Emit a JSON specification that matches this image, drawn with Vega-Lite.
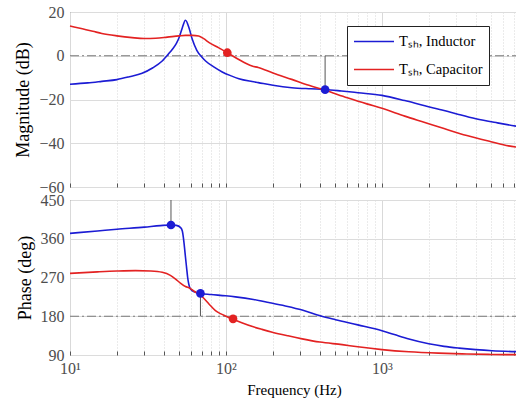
{
  "$schema": "https://vega.github.io/schema/vega-lite/v6.json",
  "padding": {"left": 14, "top": 3, "right": 0, "bottom": 0},
  "background": "white",
  "spacing": 13,
  "bounds": "flush",
  "config": {
    "font": "Liberation Serif, Times New Roman, serif",
    "view": {"stroke": "#555555", "strokeWidth": 1},
    "axis": {
      "labelFont": "Liberation Serif, Times New Roman, serif",
      "titleFont": "Liberation Serif, Times New Roman, serif",
      "labelColor": "#4d4d4d",
      "titleColor": "#000000",
      "titleFontWeight": "normal",
      "domain": false,
      "ticks": false,
      "gridColor": "#dcdcdc"
    }
  },
  "datasets": {
    "mag": [
      {"f": 10, "v": -13.0, "s": "Tₛₕ, Inductor"},
      {"f": 13, "v": -12.4, "s": "Tₛₕ, Inductor"},
      {"f": 16, "v": -11.7, "s": "Tₛₕ, Inductor"},
      {"f": 20, "v": -10.9, "s": "Tₛₕ, Inductor"},
      {"f": 24, "v": -9.6, "s": "Tₛₕ, Inductor"},
      {"f": 29, "v": -8.0, "s": "Tₛₕ, Inductor"},
      {"f": 34, "v": -5.5, "s": "Tₛₕ, Inductor"},
      {"f": 39, "v": -2.4, "s": "Tₛₕ, Inductor"},
      {"f": 43, "v": 1.0, "s": "Tₛₕ, Inductor"},
      {"f": 45.2, "v": 2.9, "s": "Tₛₕ, Inductor"},
      {"f": 48, "v": 5.5, "s": "Tₛₕ, Inductor"},
      {"f": 50, "v": 8.2, "s": "Tₛₕ, Inductor"},
      {"f": 52.5, "v": 12.8, "s": "Tₛₕ, Inductor"},
      {"f": 55, "v": 16.2, "s": "Tₛₕ, Inductor"},
      {"f": 57.9, "v": 12.8, "s": "Tₛₕ, Inductor"},
      {"f": 60.8, "v": 7.5, "s": "Tₛₕ, Inductor"},
      {"f": 65, "v": 2.5, "s": "Tₛₕ, Inductor"},
      {"f": 70, "v": -0.6, "s": "Tₛₕ, Inductor"},
      {"f": 74, "v": -2.4, "s": "Tₛₕ, Inductor"},
      {"f": 84, "v": -5.2, "s": "Tₛₕ, Inductor"},
      {"f": 94.6, "v": -7.4, "s": "Tₛₕ, Inductor"},
      {"f": 108, "v": -9.2, "s": "Tₛₕ, Inductor"},
      {"f": 121, "v": -10.5, "s": "Tₛₕ, Inductor"},
      {"f": 147, "v": -11.8, "s": "Tₛₕ, Inductor"},
      {"f": 161, "v": -12.3, "s": "Tₛₕ, Inductor"},
      {"f": 200, "v": -13.5, "s": "Tₛₕ, Inductor"},
      {"f": 264, "v": -14.6, "s": "Tₛₕ, Inductor"},
      {"f": 350, "v": -15.1, "s": "Tₛₕ, Inductor"},
      {"f": 432, "v": -15.4, "s": "Tₛₕ, Inductor"},
      {"f": 550, "v": -16.1, "s": "Tₛₕ, Inductor"},
      {"f": 702, "v": -16.9, "s": "Tₛₕ, Inductor"},
      {"f": 1000, "v": -18.1, "s": "Tₛₕ, Inductor"},
      {"f": 1400, "v": -20.5, "s": "Tₛₕ, Inductor"},
      {"f": 1883, "v": -22.9, "s": "Tₛₕ, Inductor"},
      {"f": 2500, "v": -25.0, "s": "Tₛₕ, Inductor"},
      {"f": 3060, "v": -26.7, "s": "Tₛₕ, Inductor"},
      {"f": 4000, "v": -28.8, "s": "Tₛₕ, Inductor"},
      {"f": 5500, "v": -30.7, "s": "Tₛₕ, Inductor"},
      {"f": 7450, "v": -32.3, "s": "Tₛₕ, Inductor"},
      {"f": 10, "v": 13.6, "s": "Tₛₕ, Capacitor"},
      {"f": 12, "v": 12.3, "s": "Tₛₕ, Capacitor"},
      {"f": 14, "v": 11.2, "s": "Tₛₕ, Capacitor"},
      {"f": 16, "v": 10.2, "s": "Tₛₕ, Capacitor"},
      {"f": 20, "v": 9.1, "s": "Tₛₕ, Capacitor"},
      {"f": 25, "v": 8.3, "s": "Tₛₕ, Capacitor"},
      {"f": 30, "v": 7.9, "s": "Tₛₕ, Capacitor"},
      {"f": 35.4, "v": 8.0, "s": "Tₛₕ, Capacitor"},
      {"f": 42, "v": 8.5, "s": "Tₛₕ, Capacitor"},
      {"f": 50, "v": 9.1, "s": "Tₛₕ, Capacitor"},
      {"f": 55, "v": 9.3, "s": "Tₛₕ, Capacitor"},
      {"f": 61, "v": 9.3, "s": "Tₛₕ, Capacitor"},
      {"f": 66.8, "v": 9.0, "s": "Tₛₕ, Capacitor"},
      {"f": 72, "v": 7.8, "s": "Tₛₕ, Capacitor"},
      {"f": 78, "v": 6.0, "s": "Tₛₕ, Capacitor"},
      {"f": 90, "v": 3.6, "s": "Tₛₕ, Capacitor"},
      {"f": 102, "v": 1.4, "s": "Tₛₕ, Capacitor"},
      {"f": 120, "v": -1.6, "s": "Tₛₕ, Capacitor"},
      {"f": 147, "v": -4.7, "s": "Tₛₕ, Capacitor"},
      {"f": 161, "v": -5.4, "s": "Tₛₕ, Capacitor"},
      {"f": 200, "v": -7.9, "s": "Tₛₕ, Capacitor"},
      {"f": 264, "v": -10.8, "s": "Tₛₕ, Capacitor"},
      {"f": 340, "v": -13.5, "s": "Tₛₕ, Capacitor"},
      {"f": 432, "v": -15.8, "s": "Tₛₕ, Capacitor"},
      {"f": 600, "v": -19.2, "s": "Tₛₕ, Capacitor"},
      {"f": 800, "v": -22.0, "s": "Tₛₕ, Capacitor"},
      {"f": 1000, "v": -24.0, "s": "Tₛₕ, Capacitor"},
      {"f": 1400, "v": -27.6, "s": "Tₛₕ, Capacitor"},
      {"f": 1883, "v": -30.5, "s": "Tₛₕ, Capacitor"},
      {"f": 2500, "v": -33.3, "s": "Tₛₕ, Capacitor"},
      {"f": 3500, "v": -36.5, "s": "Tₛₕ, Capacitor"},
      {"f": 5000, "v": -39.3, "s": "Tₛₕ, Capacitor"},
      {"f": 6480, "v": -41.2, "s": "Tₛₕ, Capacitor"},
      {"f": 7450, "v": -41.8, "s": "Tₛₕ, Capacitor"}
    ],
    "phase": [
      {"f": 10, "v": 372.5, "s": "Tₛₕ, Inductor"},
      {"f": 15, "v": 378, "s": "Tₛₕ, Inductor"},
      {"f": 20, "v": 382, "s": "Tₛₕ, Inductor"},
      {"f": 30, "v": 387, "s": "Tₛₕ, Inductor"},
      {"f": 38, "v": 390.5, "s": "Tₛₕ, Inductor"},
      {"f": 44.4, "v": 392, "s": "Tₛₕ, Inductor"},
      {"f": 48, "v": 391, "s": "Tₛₕ, Inductor"},
      {"f": 51.2, "v": 386, "s": "Tₛₕ, Inductor"},
      {"f": 52.5, "v": 378, "s": "Tₛₕ, Inductor"},
      {"f": 53.3, "v": 363, "s": "Tₛₕ, Inductor"},
      {"f": 54.2, "v": 340, "s": "Tₛₕ, Inductor"},
      {"f": 55, "v": 317, "s": "Tₛₕ, Inductor"},
      {"f": 55.9, "v": 293, "s": "Tₛₕ, Inductor"},
      {"f": 56.8, "v": 270, "s": "Tₛₕ, Inductor"},
      {"f": 57.7, "v": 255, "s": "Tₛₕ, Inductor"},
      {"f": 58.7, "v": 245.6, "s": "Tₛₕ, Inductor"},
      {"f": 61, "v": 239, "s": "Tₛₕ, Inductor"},
      {"f": 64, "v": 236, "s": "Tₛₕ, Inductor"},
      {"f": 68.6, "v": 233, "s": "Tₛₕ, Inductor"},
      {"f": 80, "v": 230.5, "s": "Tₛₕ, Inductor"},
      {"f": 99.5, "v": 227.5, "s": "Tₛₕ, Inductor"},
      {"f": 115, "v": 225, "s": "Tₛₕ, Inductor"},
      {"f": 150, "v": 219, "s": "Tₛₕ, Inductor"},
      {"f": 188, "v": 212, "s": "Tₛₕ, Inductor"},
      {"f": 240, "v": 204, "s": "Tₛₕ, Inductor"},
      {"f": 308, "v": 194.5, "s": "Tₛₕ, Inductor"},
      {"f": 402, "v": 181, "s": "Tₛₕ, Inductor"},
      {"f": 503, "v": 172, "s": "Tₛₕ, Inductor"},
      {"f": 700, "v": 160, "s": "Tₛₕ, Inductor"},
      {"f": 1000, "v": 146.5, "s": "Tₛₕ, Inductor"},
      {"f": 1200, "v": 137.5, "s": "Tₛₕ, Inductor"},
      {"f": 1489, "v": 127, "s": "Tₛₕ, Inductor"},
      {"f": 1995, "v": 116, "s": "Tₛₕ, Inductor"},
      {"f": 2500, "v": 110, "s": "Tₛₕ, Inductor"},
      {"f": 3120, "v": 106, "s": "Tₛₕ, Inductor"},
      {"f": 4000, "v": 102.5, "s": "Tₛₕ, Inductor"},
      {"f": 5080, "v": 100, "s": "Tₛₕ, Inductor"},
      {"f": 7450, "v": 97.7, "s": "Tₛₕ, Inductor"},
      {"f": 10, "v": 279.5, "s": "Tₛₕ, Capacitor"},
      {"f": 15, "v": 283, "s": "Tₛₕ, Capacitor"},
      {"f": 20, "v": 285, "s": "Tₛₕ, Capacitor"},
      {"f": 26.3, "v": 286, "s": "Tₛₕ, Capacitor"},
      {"f": 33, "v": 285, "s": "Tₛₕ, Capacitor"},
      {"f": 39, "v": 282, "s": "Tₛₕ, Capacitor"},
      {"f": 44, "v": 275, "s": "Tₛₕ, Capacitor"},
      {"f": 47.5, "v": 266.5, "s": "Tₛₕ, Capacitor"},
      {"f": 51, "v": 257, "s": "Tₛₕ, Capacitor"},
      {"f": 55, "v": 249, "s": "Tₛₕ, Capacitor"},
      {"f": 58.7, "v": 245, "s": "Tₛₕ, Capacitor"},
      {"f": 62, "v": 239, "s": "Tₛₕ, Capacitor"},
      {"f": 65, "v": 234, "s": "Tₛₕ, Capacitor"},
      {"f": 68.6, "v": 229, "s": "Tₛₕ, Capacitor"},
      {"f": 71.5, "v": 223, "s": "Tₛₕ, Capacitor"},
      {"f": 78, "v": 208, "s": "Tₛₕ, Capacitor"},
      {"f": 85.6, "v": 193, "s": "Tₛₕ, Capacitor"},
      {"f": 92, "v": 186, "s": "Tₛₕ, Capacitor"},
      {"f": 100, "v": 180, "s": "Tₛₕ, Capacitor"},
      {"f": 111, "v": 173, "s": "Tₛₕ, Capacitor"},
      {"f": 125, "v": 165.5, "s": "Tₛₕ, Capacitor"},
      {"f": 148, "v": 156, "s": "Tₛₕ, Capacitor"},
      {"f": 170, "v": 149.5, "s": "Tₛₕ, Capacitor"},
      {"f": 198, "v": 143, "s": "Tₛₕ, Capacitor"},
      {"f": 250, "v": 134.5, "s": "Tₛₕ, Capacitor"},
      {"f": 308, "v": 127.5, "s": "Tₛₕ, Capacitor"},
      {"f": 400, "v": 120, "s": "Tₛₕ, Capacitor"},
      {"f": 556, "v": 114, "s": "Tₛₕ, Capacitor"},
      {"f": 700, "v": 109, "s": "Tₛₕ, Capacitor"},
      {"f": 1000, "v": 102.5, "s": "Tₛₕ, Capacitor"},
      {"f": 1489, "v": 97.5, "s": "Tₛₕ, Capacitor"},
      {"f": 2300, "v": 94.3, "s": "Tₛₕ, Capacitor"},
      {"f": 3500, "v": 92.4, "s": "Tₛₕ, Capacitor"},
      {"f": 5000, "v": 91.3, "s": "Tₛₕ, Capacitor"},
      {"f": 7450, "v": 90.8, "s": "Tₛₕ, Capacitor"}
    ],
    "magPts": [
      {"f": 102, "v": 1.4, "s": "Tₛₕ, Capacitor"},
      {"f": 432, "v": -15.5, "s": "Tₛₕ, Inductor"}
    ],
    "phasePts": [
      {"f": 44.4, "v": 392, "s": "Tₛₕ, Inductor"},
      {"f": 68.6, "v": 233, "s": "Tₛₕ, Inductor"},
      {"f": 111, "v": 174, "s": "Tₛₕ, Capacitor"}
    ],
    "magRef": [{"f": 10, "f2": 7450, "v": 0}],
    "phaseRef": [{"f": 10, "f2": 7450, "v": 180}],
    "magV": [{"f": 432, "v": 0, "v2": -15.5}],
    "phaseV": [
      {"f": 44.4, "v": 450, "v2": 392},
      {"f": 68.6, "v": 233, "v2": 180}
    ]
  },
  "vconcat": [
    {
      "width": 448,
      "height": 175,
      "encoding": {
        "x": {
          "field": "f", "type": "quantitative",
          "scale": {"type": "log", "domain": [10, 7450], "nice": false},
          "axis": {
            "title": null, "labels": false, "labelPadding": 0, "minExtent": 0, "maxExtent": 0,
            "ticks": true, "tickSize": -4, "tickColor": "#555555", "tickWidth": 1,
            "values": [10, 20, 30, 40, 50, 60, 70, 80, 90, 100, 200, 300, 400, 500, 600, 700, 800, 900, 1000, 2000, 3000, 4000, 5000, 6000, 7000],
            "gridDash": {"condition": {"test": "datum.value == 10 || datum.value == 100 || datum.value == 1000", "value": []}, "value": [1, 2]},
            "gridColor": {"condition": {"test": "datum.value == 10 || datum.value == 100 || datum.value == 1000", "value": "#d9d9d9"}, "value": "#d6d6d6"}
          }
        },
        "y": {
          "field": "v", "type": "quantitative",
          "scale": {"domain": [-60, 20], "nice": false},
          "axis": {"title": "Magnitude (dB)", "values": [-60, -40, -20, 0, 20], "labelFontSize": 16, "titleFontSize": 18, "labelPadding": 6, "titlePadding": 6, "labelOverlap": false}
        }
      },
      "layer": [
        {
          "data": {"name": "magRef"},
          "mark": {"type": "rule", "color": "#7a7a7a", "strokeWidth": 1.2, "strokeDash": [9, 3, 2, 3]},
          "encoding": {"x2": {"field": "f2"}}
        },
        {
          "data": {"name": "magV"},
          "mark": {"type": "rule", "color": "#555555", "strokeWidth": 1},
          "encoding": {"y2": {"field": "v2"}}
        },
        {
          "data": {"name": "mag"},
          "mark": {"type": "line", "strokeWidth": 1.6, "interpolate": "monotone"},
          "encoding": {
            "color": {
              "field": "s", "type": "nominal",
              "scale": {"domain": ["Tₛₕ, Inductor", "Tₛₕ, Capacitor"], "range": ["#1c1cd4", "#e32222"]},
              "legend": {
                "title": null, "orient": "none", "legendX": 277, "legendY": 14,
                "fillColor": "white", "strokeColor": "#222222", "padding": 6,
                "symbolType": "stroke", "symbolSize": 1600, "symbolStrokeWidth": 1.6,
                "clipHeight": 19,
                "labelFont": "Liberation Serif, Times New Roman, serif", "labelFontSize": 14.5, "labelColor": "#000000",
                "rowPadding": 9, "labelOffset": 4, "symbolOffset": 0
              }
            }
          }
        },
        {
          "data": {"name": "magPts"},
          "mark": {"type": "circle", "size": 75, "opacity": 1},
          "encoding": {"color": {"field": "s", "type": "nominal"}}
        }
      ]
    },
    {
      "width": 448,
      "height": 155,
      "encoding": {
        "x": {
          "field": "f", "type": "quantitative",
          "scale": {"type": "log", "domain": [10, 7450], "nice": false},
          "axis": {
            "title": "Frequency  (Hz)", "titleFontSize": 15, "titlePadding": 6,
            "ticks": true, "tickSize": -4, "tickColor": "#555555", "tickWidth": 1,
            "values": [10, 20, 30, 40, 50, 60, 70, 80, 90, 100, 200, 300, 400, 500, 600, 700, 800, 900, 1000, 2000, 3000, 4000, 5000, 6000, 7000],
            "labelExpr": "datum.value == 10 ? '10¹' : datum.value == 100 ? '10²' : datum.value == 1000 ? '10³' : ''",
            "labelFontSize": 16, "labelPadding": 9, "labelOverlap": false, "labelFlush": false,
            "gridDash": {"condition": {"test": "datum.value == 10 || datum.value == 100 || datum.value == 1000", "value": []}, "value": [1, 2]},
            "gridColor": {"condition": {"test": "datum.value == 10 || datum.value == 100 || datum.value == 1000", "value": "#d9d9d9"}, "value": "#d6d6d6"}
          }
        },
        "y": {
          "field": "v", "type": "quantitative",
          "scale": {"domain": [90, 450], "nice": false},
          "axis": {"title": "Phase (deg)", "values": [90, 180, 270, 360, 450], "labelFontSize": 16, "titleFontSize": 18, "labelPadding": 6, "titlePadding": 6, "labelOverlap": false}
        }
      },
      "layer": [
        {
          "data": {"name": "phaseRef"},
          "mark": {"type": "rule", "color": "#7a7a7a", "strokeWidth": 1.2, "strokeDash": [9, 3, 2, 3]},
          "encoding": {"x2": {"field": "f2"}}
        },
        {
          "data": {"name": "phaseV"},
          "mark": {"type": "rule", "color": "#555555", "strokeWidth": 1},
          "encoding": {"y2": {"field": "v2"}}
        },
        {
          "data": {"name": "phase"},
          "mark": {"type": "line", "strokeWidth": 1.6, "interpolate": "monotone"},
          "encoding": {"color": {"field": "s", "type": "nominal", "legend": null}}
        },
        {
          "data": {"name": "phasePts"},
          "mark": {"type": "circle", "size": 75, "opacity": 1},
          "encoding": {"color": {"field": "s", "type": "nominal", "legend": null}}
        }
      ]
    }
  ]
}
